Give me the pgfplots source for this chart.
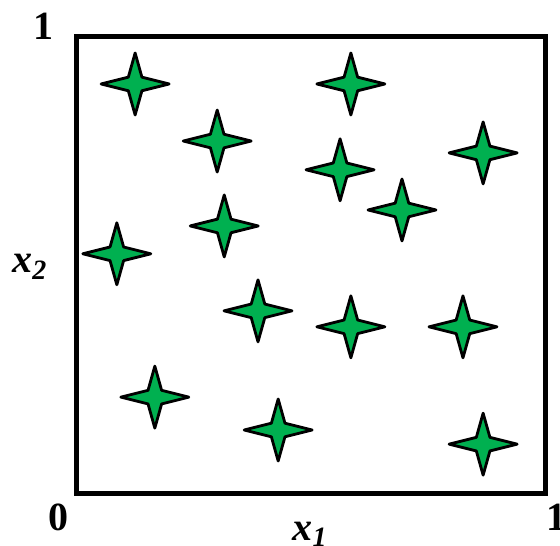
\documentclass[border=0pt]{standalone}
\usepackage{fontspec}
\setmainfont{Liberation Serif}
\usepackage{pgfplots}
\pgfplotsset{compat=1.18}
\definecolor{starGreen}{RGB}{0,176,80}
\pgfdeclareplotmark{star4}{%
  \pgfpathmoveto{\pgfpoint{17pt}{0pt}}%
  \pgfpathlineto{\pgfpoint{3.4pt}{3.4pt}}%
  \pgfpathlineto{\pgfpoint{0pt}{15.5pt}}%
  \pgfpathlineto{\pgfpoint{-3.4pt}{3.4pt}}%
  \pgfpathlineto{\pgfpoint{-17pt}{0pt}}%
  \pgfpathlineto{\pgfpoint{-3.4pt}{-3.4pt}}%
  \pgfpathlineto{\pgfpoint{0pt}{-15.5pt}}%
  \pgfpathlineto{\pgfpoint{3.4pt}{-3.4pt}}%
  \pgfpathclose
  \pgfusepathqfillstroke}
\begin{document}
\begin{tikzpicture}
\begin{axis}[
  scale only axis,
  width=234.5pt, height=228.25pt,
  xmin=0, xmax=1, ymin=0, ymax=1,
  xtick=\empty, ytick=\empty,
  axis line style={line width=2.5pt, line cap=rect},
  clip=false,
]
\addplot[only marks, mark=star4,
  mark options={fill=starGreen, draw=black, line width=1.4pt, line join=round}]
coordinates {
(0.125,0.896) (0.585,0.896) (0.300,0.771) (0.867,0.745) (0.562,0.708)
(0.694,0.620) (0.315,0.585) (0.086,0.524) (0.387,0.399) (0.585,0.364)
(0.824,0.364) (0.167,0.210) (0.430,0.138) (0.867,0.107)
};
\end{axis}
\begin{scope}[font=\fontsize{20}{24}\selectfont\bfseries]
\node[anchor=base] at (-16.5pt,226.5pt) {1};
\node[anchor=base] at (-8.75pt,-18.5pt) {0};
\node[anchor=base west, inner sep=0pt] at (235pt,-18.5pt) {1};
\node[anchor=base] at (116.75pt,-23.5pt) {\textit{x\textsubscript{1}}};
\node[anchor=base] at (-23.25pt,110pt) {\textit{x\textsubscript{2}}};
\end{scope}
\pgfresetboundingbox
\useasboundingbox (-38.25pt,-26pt) rectangle (241.75pt,246.5pt);
\end{tikzpicture}
\end{document}
